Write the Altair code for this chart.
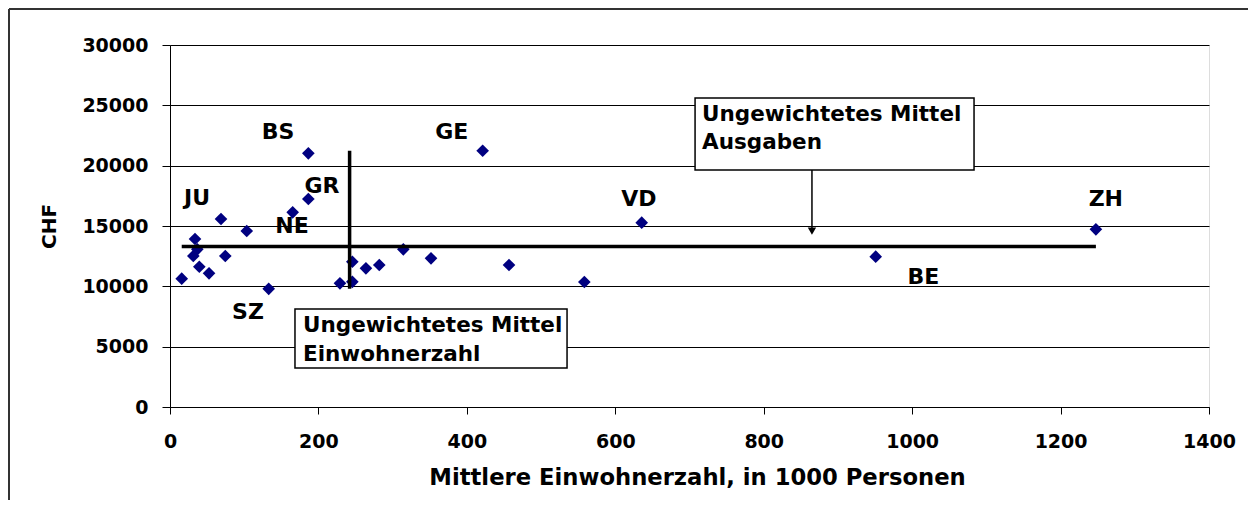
import altair as alt
import pandas as pd

# Canton data (population in 1000, expenditure CHF)
pop = [15.8, 31.4, 33.7, 36.8, 39.5, 52.6, 68.7, 74.5, 103.4, 133.0, 165.3, 186.4, 186.4,
       229.0, 245.7, 245.7, 264.0, 282.0, 314.4, 351.7, 421.3, 456.8, 558.3, 635.6, 950.9, 1247.6]
chf = [10633, 12513, 13922, 13066, 11627, 11080, 15580, 12513, 14585, 9790, 16134, 17237, 21022,
       10251, 10370, 12041, 11493, 11768, 13066, 12322, 21240, 11768, 10359, 15275, 12456, 14724]

# Canton labels and their positions
lab_text = ["BS", "GE", "JU", "GR", "NE", "SZ", "VD", "ZH", "BE"]
lab_x = [145.5, 379.6, 36.4, 204.8, 164.4, 105.1, 631.7, 1261.0, 1015.0]
lab_y = [22790, 22815, 17320, 18314, 15000, 7873, 17212, 17212, 10800]

# Unweighted means
mean_pop = 242
mean_chf = 13300

# Annotation boxes (data units)
box_x = [168.4, 707.5]
box_x2 = [535.0, 1083.4]
box_y = [8121, 25607]
box_y2 = [3232, 19640]
box_line1 = ["Ungewichtetes Mittel", "Ungewichtetes Mittel"]
box_line2 = ["Einwohnerzahl", "Ausgaben"]
box_tx = [179.2, 716.9]
box_ty1 = [6712, 24198]
box_ty2 = [4309, 21878]

# Arrow from top box to horizontal mean line
arrow_x = 865
arrow_y_start = 19640
arrow_y_end = 14834
arrow_head_y = 14585

FONT = "DejaVu Sans"

pts = pd.DataFrame({"x": pop, "y": chf})
labs = pd.DataFrame({"t": lab_text, "x": lab_x, "y": lab_y})
boxes = pd.DataFrame({"x": box_x, "x2": box_x2, "y": box_y, "y2": box_y2})
btext = pd.DataFrame({
    "t": box_line1 + box_line2,
    "x": box_tx + box_tx,
    "y": box_ty1 + box_ty2,
})
hline = pd.DataFrame({"x": [min(pop)], "x2": [max(pop)], "y": [mean_chf]})
vline = pd.DataFrame({"x": [mean_pop], "y": [min(chf)], "y2": [max(chf)]})
arrow = pd.DataFrame({"x": [arrow_x], "y": [arrow_y_start], "y2": [arrow_y_end], "yh": [arrow_head_y]})

xs = alt.Scale(domain=[0, 1400], nice=False)
ys = alt.Scale(domain=[0, 30000], nice=False)

xaxis = alt.Axis(values=list(range(0, 1401, 200)), format="d", grid=False, tickSize=7,
                 labelFont=FONT, labelFontSize=19, labelFontWeight="bold", labelColor="black",
                 labelPadding=18, title="Mittlere Einwohnerzahl, in 1000 Personen",
                 titleFont=FONT, titleFontSize=22.7, titleFontWeight="bold", titleColor="black",
                 titlePadding=15, titleX=527, titleAlign="center",
                 domainColor="black", tickColor="black", labelFlush=False)
yaxis = alt.Axis(values=list(range(0, 30001, 5000)), format="d", grid=True, gridColor="black",
                 gridWidth=1, tickSize=8, labelFont=FONT, labelFontSize=19, labelFontWeight="bold",
                 labelColor="black", labelPadding=14, title="CHF", titleFont=FONT,
                 titleFontSize=20, titleFontWeight="bold", titleColor="black", titlePadding=22,
                 domainColor="black", tickColor="black")

base_pts = alt.Chart(pts).mark_point(shape="diamond", filled=True, size=160, color="#000080",
                                     opacity=1).encode(
    x=alt.X("x:Q", scale=xs, axis=xaxis),
    y=alt.Y("y:Q", scale=ys, axis=yaxis),
)

h = alt.Chart(hline).mark_rule(color="black", strokeWidth=3.5).encode(
    x=alt.X("x:Q", scale=xs), x2="x2:Q", y=alt.Y("y:Q", scale=ys))
v = alt.Chart(vline).mark_rule(color="black", strokeWidth=3.5).encode(
    x=alt.X("x:Q", scale=xs), y=alt.Y("y:Q", scale=ys), y2="y2:Q")

labels = alt.Chart(labs).mark_text(font=FONT, fontSize=22, fontWeight="bold", color="black",
                                   align="center", baseline="middle").encode(
    x=alt.X("x:Q", scale=xs), y=alt.Y("y:Q", scale=ys), text="t:N")

brect = alt.Chart(boxes).mark_rect(fill="white", stroke="black", strokeWidth=1.5).encode(
    x=alt.X("x:Q", scale=xs), x2="x2:Q", y=alt.Y("y:Q", scale=ys), y2="y2:Q")
btx = alt.Chart(btext).mark_text(font=FONT, fontSize=21.5, fontWeight="bold", color="black",
                                 align="left", baseline="middle").encode(
    x=alt.X("x:Q", scale=xs), y=alt.Y("y:Q", scale=ys), text="t:N")

arr = alt.Chart(arrow).mark_rule(color="black", strokeWidth=1.5).encode(
    x=alt.X("x:Q", scale=xs), y=alt.Y("y:Q", scale=ys), y2="y2:Q")
arrh = alt.Chart(arrow).mark_point(shape="triangle-down", filled=True, size=70, color="black",
                                   opacity=1).encode(
    x=alt.X("x:Q", scale=xs), y=alt.Y("yh:Q", scale=ys))

# outer chart frame (left and top edges)
frame_l = alt.Chart(pts).mark_rule(color="#333333", strokeWidth=2).encode(
    x=alt.value(-161), y=alt.value(-36), y2=alt.value(470))
frame_t = alt.Chart(pts).mark_rule(color="#333333", strokeWidth=2).encode(
    x=alt.value(-161), x2=alt.value(1090), y=alt.value(-36))

chart = alt.layer(base_pts, h, v, labels, brect, btx, arr, arrh, frame_l, frame_t).properties(
    width=1039, height=362,
    autosize=alt.AutoSizeParams(type="none"),
    padding={"left": 162, "top": 37, "right": 39, "bottom": 93},
).configure_view(stroke="black", strokeWidth=1.5).configure(background="white")

chart.save("out.html", embed_options={"renderer": "svg", "actions": False})
